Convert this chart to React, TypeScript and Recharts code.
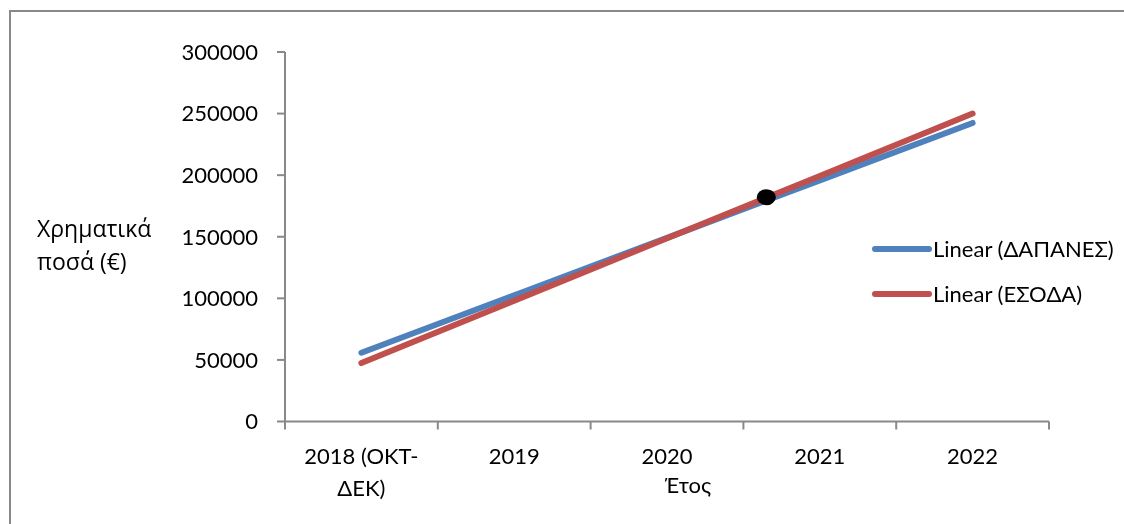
import { LineChart, Line, XAxis, YAxis, Legend, ReferenceDot } from 'recharts';

// values at each year
const CATEGORIES = ['2018 (ΟΚΤ-ΔΕΚ)', '2019', '2020', '2021', '2022'];
const DAPANES = [55800, 102450, 149100, 195750, 242400];
const ESODA = [47450, 98090, 148730, 199370, 250000];
const Y_TICKS = [0, 50000, 100000, 150000, 200000, 250000, 300000];
const CROSS_AT = 2.65;
const CROSS_VALUE = 182100;

const W = 1108;
const H = 508;
const MARGIN = { top: 44, right: 67, bottom: 2.5, left: 0 };
const Y_AXIS_W = 277;
const X_AXIS_H = 92;
const HALF = (W - MARGIN.left - MARGIN.right - Y_AXIS_W) / (CATEGORIES.length * 2);

const FONT = 'Lato, "Open Sans", sans-serif';
const GREEK_FONT = '"Open Sans", "Noto Sans", sans-serif';
const AXIS = '#898989';
const BLUE = '#4F81BD';
const RED = '#C0504D';

const rows = CATEGORIES.map((cat, i) => ({ idx: i, cat, dapanes: DAPANES[i], esoda: ESODA[i] }));

function XTick(props: any) {
  const { x, y, payload } = props;
  const i = payload.value as number;
  const label = CATEGORIES[i] ?? '';
  const cut = label.indexOf('-');
  const lines = cut >= 0 ? [label.slice(0, cut + 1), label.slice(cut + 1)] : [label];
  return (
    <g>
      <line x1={x - HALF} x2={x - HALF} y1={y} y2={y + 8} stroke={AXIS} strokeWidth={2} />
      {i === CATEGORIES.length - 1 && (
        <line x1={x + HALF} x2={x + HALF} y1={y} y2={y + 8} stroke={AXIS} strokeWidth={2} />
      )}
      <text x={x} y={y + 42.5} textAnchor="middle" fontFamily={FONT} fontSize={22} fill="#000">
        {lines.map((l, k) => (
          <tspan key={k} x={x} dy={k === 0 ? 0 : 32}>{l}</tspan>
        ))}
      </text>
    </g>
  );
}

function YTitle({ viewBox }: any) {
  const x = (viewBox?.x ?? 0) + 29;
  const y = (viewBox?.y ?? MARGIN.top) + 185;
  return (
    <text x={x} y={y} fontFamily={GREEK_FONT} fontSize={23} fill="#000">
      <tspan x={x}>Χρηματικά</tspan>
      <tspan x={x} dy={33}>ποσά (€)</tspan>
    </text>
  );
}

function XTitle({ viewBox }: any) {
  const cx = viewBox.x + viewBox.width / 2 + 21;
  return (
    <text x={cx} y={viewBox.y + 71.5} textAnchor="middle" fontFamily={FONT} fontSize={22} fill="#000">
      Έτος
    </text>
  );
}

function LegendBox({ payload }: any) {
  return (
    <div style={{ fontFamily: FONT, fontSize: 22, color: '#000' }}>
      {(payload ?? []).map((p: any) => (
        <div key={p.value} style={{ display: 'flex', alignItems: 'center', height: 45 }}>
          <svg width={60} height={10} style={{ display: 'block' }}>
            <line x1={3} x2={57} y1={5} y2={5} stroke={p.color} strokeWidth={6} strokeLinecap="round" />
          </svg>
          <span style={{ lineHeight: '22px', marginLeft: 1, whiteSpace: 'nowrap' }}>{p.value}</span>
        </div>
      ))}
    </div>
  );
}

function Ellipse({ cx, cy }: any) {
  return <ellipse cx={cx} cy={cy} rx={9.5} ry={8} fill="#000" />;
}

export default function App() {
  return (
    <div style={{ position: 'relative', width: W, height: H, fontFamily: FONT }}>
      {/* outer chart-area frame, runs off the right and bottom edges */}
      <div style={{
        position: 'fixed', left: 9, top: 10, right: -10, bottom: -10,
        borderTop: `2px solid ${AXIS}`, borderLeft: `2px solid ${AXIS}`, pointerEvents: 'none',
      }} />
      <LineChart width={W} height={H} data={rows} margin={MARGIN}>
        <XAxis
          dataKey="idx" type="number" domain={[-0.5, 4.5]} ticks={[0, 1, 2, 3, 4]} interval={0}
          height={X_AXIS_H} tickLine={false} tickSize={0} tickMargin={0}
          axisLine={{ stroke: AXIS, strokeWidth: 2 }} tick={<XTick />} label={<XTitle />}
        />
        <YAxis
          type="number" domain={[0, 300000]} ticks={Y_TICKS} interval={0} width={Y_AXIS_W}
          tickSize={8} tickMargin={19}
          axisLine={{ stroke: AXIS, strokeWidth: 2 }} tickLine={{ stroke: AXIS, strokeWidth: 2 }}
          tick={{ fill: '#000', fontSize: 22, fontFamily: FONT }} label={<YTitle />}
        />
        <Legend
          layout="vertical" align="center" verticalAlign="middle" content={<LegendBox />}
          wrapperStyle={{ left: 864, top: 218, width: 244 }}
        />
        <Line dataKey="dapanes" name="Linear (ΔΑΠΑΝΕΣ)" stroke={BLUE} strokeWidth={6}
              strokeLinecap="round" dot={false} activeDot={false} isAnimationActive={false} />
        <Line dataKey="esoda" name="Linear (ΕΣΟΔΑ)" stroke={RED} strokeWidth={6}
              strokeLinecap="round" dot={false} activeDot={false} isAnimationActive={false} />
        <ReferenceDot x={CROSS_AT} y={CROSS_VALUE} shape={<Ellipse />} />
      </LineChart>
    </div>
  );
}
